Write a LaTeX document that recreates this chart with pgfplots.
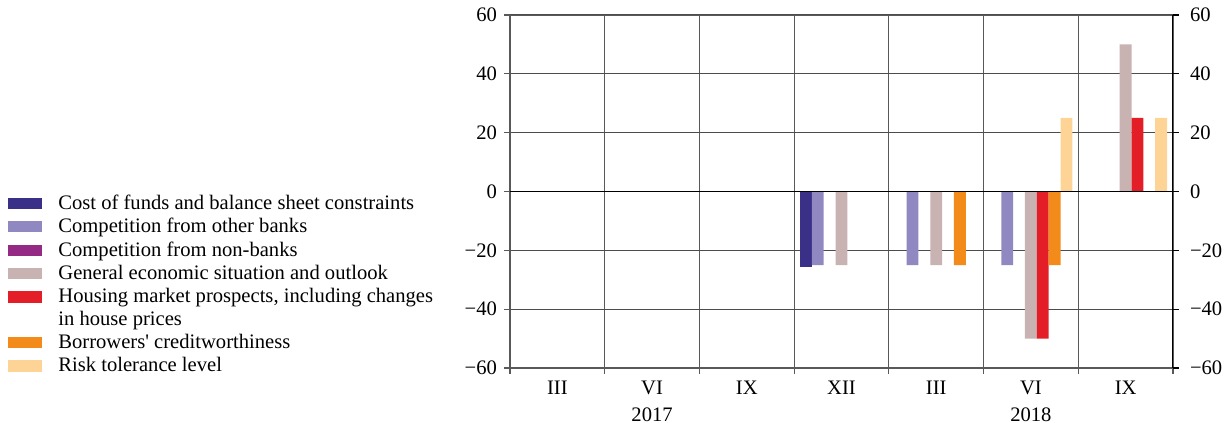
\documentclass[border=0pt]{standalone}
\usepackage{pgfplots}
\pgfplotsset{compat=1.18}
\usepackage{fontspec}
\setmainfont{Liberation Serif}
\definecolor{cCost}{HTML}{3B3087}
\definecolor{cOther}{HTML}{9088C0}
\definecolor{cNon}{HTML}{952A84}
\definecolor{cGen}{HTML}{C8B2B2}
\definecolor{cHouse}{HTML}{E31E26}
\definecolor{cBorr}{HTML}{F28B1A}
\definecolor{cRisk}{HTML}{FDD496}
\pgfplotsset{
  normimg/.style={legend image code/.code={\fill[##1] (0pt,-2.8pt) rectangle (17pt,2.8pt); \path[draw=none,fill=none] (23pt,0pt);}},
  houseimg/.style={legend image code/.code={\fill[##1] (0pt,2.8pt) rectangle (17pt,8.4pt); \path[draw=none,fill=none] (0pt,-8.4pt) (23pt,8.4pt);}},
}
\begin{document}
\begin{tikzpicture}
\useasboundingbox (-255pt,-27.5pt) rectangle (358.5pt,184pt);
\begin{axis}[
  at={(0,0)}, anchor=south west,
  scale only axis, width=331.5pt, height=176.5pt,
  font=\fontsize{10.3pt}{11.5pt}\selectfont,
  xmin=-0.5, xmax=6.5, ymin=-60, ymax=60,
  ybar=0pt, bar width=0.125,
  xtick={0,...,6},
  xticklabels={III,{VI\\2017},IX,XII,III,{VI\\2018},IX},
  xticklabel style={align=center, anchor=north, yshift=0pt, font=\fontsize{10.3pt}{13.4pt}\selectfont},
  major x tick style={draw=none},
  minor xtick={-0.5,0.5,...,6.5},
  xminorgrids, minor x grid style={gray!70!black, line width=0.6pt},
  minor x tick style={gray!70!black, line width=0.6pt},
  minor tick length=3pt,
  tick align=outside,
  ytick={-60,-40,...,60},
  yticklabels={−60,−40,−20,0,20,40,60},
  major y tick style={gray!70!black, line width=0.6pt},
  major tick length=3pt,
  ymajorgrids, major y grid style={gray!60!black, line width=0.6pt},
  axis line style={gray!70!black, line width=1pt},
  axis x line*=bottom, axis y line*=left,
  legend cell align=left,
  legend style={at={(-254pt,-7.5pt)}, anchor=south west, draw=none, fill=none,
    font=\fontsize{10.3pt}{11.2pt}\selectfont, row sep=-1pt,
    cells={align=left}},
  normimg,
]
\addplot[fill=cCost, draw=none] coordinates {(3,-25.5)};
\addlegendentry{Cost of funds and balance sheet constraints}
\addplot[fill=cOther, draw=none] coordinates {(3,-25) (4,-25) (5,-25)};
\addlegendentry{Competition from other banks}
\addplot[fill=cNon, draw=none] coordinates {(3,0)};
\addlegendentry{Competition from non-banks}
\addplot[fill=cGen, draw=none] coordinates {(3,-25) (4,-25) (5,-50) (6,50)};
\addlegendentry{General economic situation and outlook}
\addplot[fill=cHouse, draw=none, houseimg] coordinates {(5,-50) (6,25)};
\addlegendentry{Housing market prospects, including changes\\in house prices}
\addplot[fill=cBorr, draw=none] coordinates {(4,-25) (5,-25)};
\addlegendentry{Borrowers\textquotesingle{} creditworthiness}
\addplot[fill=cRisk, draw=none] coordinates {(5,25) (6,25)};
\addlegendentry{Risk tolerance level}
\draw[black, line width=0.7pt] (axis cs:-0.5,0) -- (axis cs:6.5,0);
\draw[gray!70!black, line width=1pt] (axis cs:-0.5,60) -- (axis cs:6.5,60);
\draw[black, line width=0.7pt] (axis cs:6.5,-60) -- (axis cs:6.5,60);
\end{axis}
\begin{axis}[
  at={(0,0)}, anchor=south west,
  scale only axis, width=331.5pt, height=176.5pt,
  font=\fontsize{10.3pt}{11.5pt}\selectfont,
  xmin=-0.5, xmax=6.5, ymin=-60, ymax=60,
  hide x axis,
  axis y line*=right,
  axis line style={draw=none},
  ytick={-60,-40,...,60},
  yticklabels={−60,−40,−20,0,20,40,60},
  tick align=outside, major tick length=3pt,
  major y tick style={black, line width=0.6pt},
  yticklabel style={xshift=2pt},
]
\addplot[draw=none] coordinates {(0,0)};
\end{axis}
\end{tikzpicture}
\end{document}
